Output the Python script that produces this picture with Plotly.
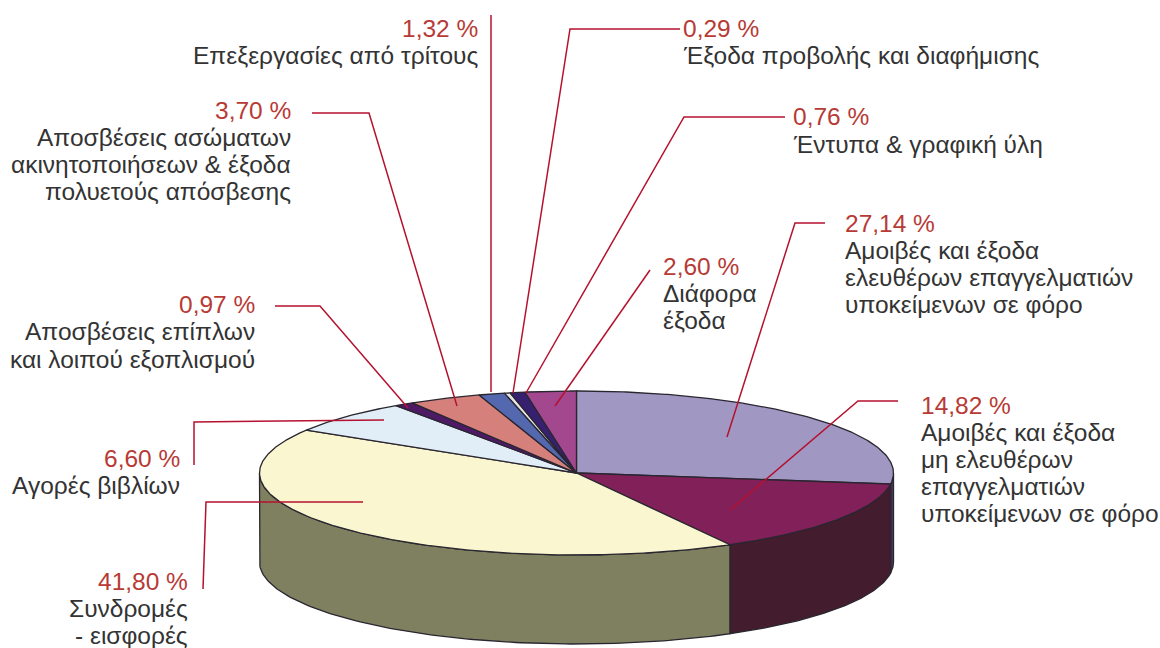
import numpy as np
import plotly.graph_objects as go

value_labels = ["27,14 %", "14,82 %", "41,80 %", "6,60 %", "0,97 %", "3,70 %", "1,32 %", "0,29 %", "0,76 %", "2,60 %"]
shares = [27.14, 14.82, 41.80, 6.60, 0.97, 3.70, 1.32, 0.29, 0.76, 2.60]
category_lines = [
    ["Αμοιβές και έξοδα", "ελευθέρων επαγγελματιών", "υποκείμενων σε φόρο"],
    ["Αμοιβές και έξοδα", "μη ελευθέρων", "επαγγελματιών", "υποκείμενων σε φόρο"],
    ["Συνδρομές", "- εισφορές"],
    ["Αγορές βιβλίων"],
    ["Αποσβέσεις επίπλων", "και λοιπού εξοπλισμού"],
    ["Αποσβέσεις ασώματων", "ακινητοποιήσεων & έξοδα", "πολυετούς απόσβεσης"],
    ["Επεξεργασίες από τρίτους"],
    ["Έξοδα προβολής και διαφήμισης"],
    ["Έντυπα & γραφική ύλη"],
    ["Διάφορα", "έξοδα"],
]
top_colors = ["#A097C3", "#82205A", "#FAF6D0", "#E2EEF7", "#4E1A66", "#D5807A", "#5468B0", "#E6E6E6", "#36206F", "#A3478F"]
wall_colors = ["#4A3A5E", "#431D2E", "#7F8060", "#7F8060", "#7F8060", "#7F8060", "#7F8060", "#7F8060", "#7F8060", "#7F8060"]

# label block layout: anchor, x, y of first line, line pitch
label_pos = [
    ("left", 843, 223, 27.3), ("left", 919, 405, 27), ("right", 190, 581, 27),
    ("right", 182, 458, 27), ("right", 257, 304, 27.5), ("right", 293, 110, 27.3),
    ("right", 480, 28, 27), ("left", 681, 28, 27), ("left", 791, 116, 28), ("left", 661, 266, 27),
]
leaders = [
    [(825, 223), (795, 223), (727, 437)],
    [(898, 401), (858, 401), (730, 510)],
    [(203, 589), (206, 502), (363, 502)],
    [(194, 465), (194, 422), (384, 420)],
    [(275, 306), (320, 306), (408, 408)],
    [(312, 113), (369, 113), (457, 406)],
    [(491, 15), (491, 392)],
    [(680, 29), (570, 29), (513, 393)],
    [(785, 117), (684, 117), (526, 393)],
    [(650, 270), (555, 406)],
]

CX, CY, RX, RY, DEPTH = 576.5, 473, 317, 82, 89
OUTLINE = dict(color="#2a2630", width=1.3)


def ell(theta):
    return CX + RX * np.sin(theta), CY - RY * np.cos(theta)


fig = go.Figure()
edges = np.cumsum([0] + shares) / sum(shares) * 2 * np.pi

# side walls: only the front half (pi/2 .. 3pi/2 clockwise from the top)
for i, col in enumerate(wall_colors):
    a, b = max(edges[i], np.pi / 2), min(edges[i + 1], 3 * np.pi / 2)
    if b <= a:
        continue
    t = np.linspace(a, b, 120)
    x, y = ell(t)
    fig.add_trace(go.Scatter(
        x=np.r_[x, x[::-1], x[0]], y=np.r_[y, y[::-1] + DEPTH, y[0]],
        mode="lines", fill="toself", fillcolor=col, line=OUTLINE, hoverinfo="skip", showlegend=False))

# top face
for i, col in enumerate(top_colors):
    t = np.linspace(edges[i], edges[i + 1], max(4, int(shares[i] * 8)))
    x, y = ell(t)
    fig.add_trace(go.Scatter(
        x=np.r_[CX, x, CX], y=np.r_[CY, y, CY],
        mode="lines", fill="toself", fillcolor=col, line=OUTLINE, hoverinfo="skip", showlegend=False))

# leader lines
for pts in leaders:
    fig.add_trace(go.Scatter(
        x=[p[0] for p in pts], y=[p[1] for p in pts], mode="lines",
        line=dict(color="#B5122F", width=1.5), hoverinfo="skip", showlegend=False))

# texts
FONT = "Liberation Sans"
SIZE = 24.5
annotations = []
for val, lines, (anchor, x, y, pitch) in zip(value_labels, category_lines, label_pos):
    annotations.append(dict(x=x, y=y, text=val, xanchor=anchor, yanchor="middle", showarrow=False,
                            xref="x", yref="y", font=dict(color="#B83A36", size=SIZE, family=FONT)))
    for k, line in enumerate(lines):
        annotations.append(dict(x=x, y=y + pitch * (k + 1), text=line, xanchor=anchor, yanchor="middle",
                                showarrow=False, xref="x", yref="y",
                                font=dict(color="#333333", size=SIZE, family=FONT)))

fig.update_layout(
    width=1160, height=648, margin=dict(l=0, r=0, t=0, b=0),
    paper_bgcolor="white", plot_bgcolor="white", showlegend=False,
    xaxis=dict(range=[0, 1160], visible=False, fixedrange=True),
    yaxis=dict(range=[648, 0], visible=False, fixedrange=True),
    annotations=annotations,
)
fig.write_html("out.html", config={"displayModeBar": False},
               post_script="document.body.style.margin='0';document.body.style.overflow='hidden';")
